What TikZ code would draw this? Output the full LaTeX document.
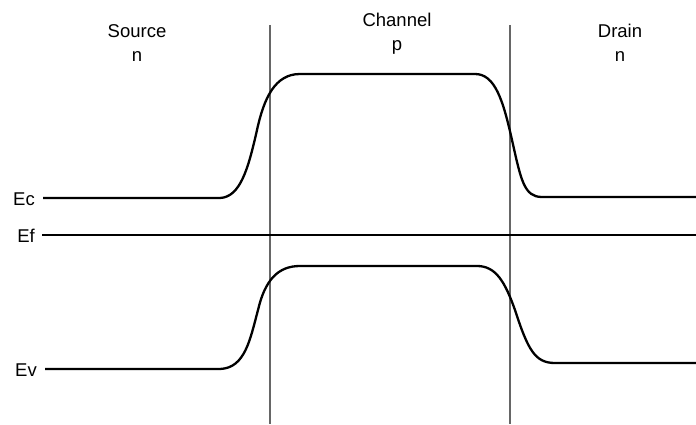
\documentclass[tikz,border=0pt]{standalone}
\usepackage{fontspec}
\setmainfont{Liberation Sans}
\begin{document}
\begin{tikzpicture}[x=1pt,y=-1pt,
  band/.style={line width=2.3pt,black,line join=round},
  wall/.style={line width=1.1pt,black!60},
  lbl/.style={font=\fontsize{18.5}{24}\selectfont,inner sep=0pt,align=center,anchor=base},
  lvl/.style={font=\fontsize{18.5}{20}\selectfont,inner sep=0pt,anchor=base east}]
\useasboundingbox (0,0) rectangle (696,425);
% region boundaries
\coordinate (w1t) at (270,25); \coordinate (w1b) at (270,424);
\coordinate (w2t) at (510,25); \coordinate (w2b) at (510,424);
\draw[wall] (w1t) -- (w1b);
\draw[wall] (w2t) -- (w2b);
% region labels (positioned at the baseline of the second line)
\node[lbl] (src) at (137,62) {Source\\n};
\node[lbl] (chn) at (397,51) {Channel\\p};
\node[lbl] (drn) at (620,62) {Drain\\n};
% level labels
\node[lvl] (ec) at (35,205) {Ec};
\node[lvl] (ef) at (35,242) {Ef};
\node[lvl] (ev) at (37,376) {Ev};
% line start points beside the labels
\coordinate (ecs) at (43,198);
\coordinate (efs) at (42,235);
\coordinate (evs) at (45,369);
% conduction band
\draw[band] (ecs) -- (220,198)
  .. controls (240,197) and (248,170) .. (257,130)
  .. controls (264,98) and (275,74) .. (300,74)
  -- (475,74)
  .. controls (495,74) and (503,100) .. (512,140)
  .. controls (521,180) and (524,197) .. (542,197) -- (696,197);
% Fermi level
\draw[band] (efs) -- (696,235);
% valence band
\draw[band] (evs) -- (220,369)
  .. controls (245,368) and (250,340) .. (258,310)
  .. controls (265,280) and (278,266) .. (300,266)
  -- (477,266)
  .. controls (496,266) and (505,282) .. (515,310)
  .. controls (528,350) and (535,363) .. (555,363) -- (696,363);
\end{tikzpicture}
\end{document}
